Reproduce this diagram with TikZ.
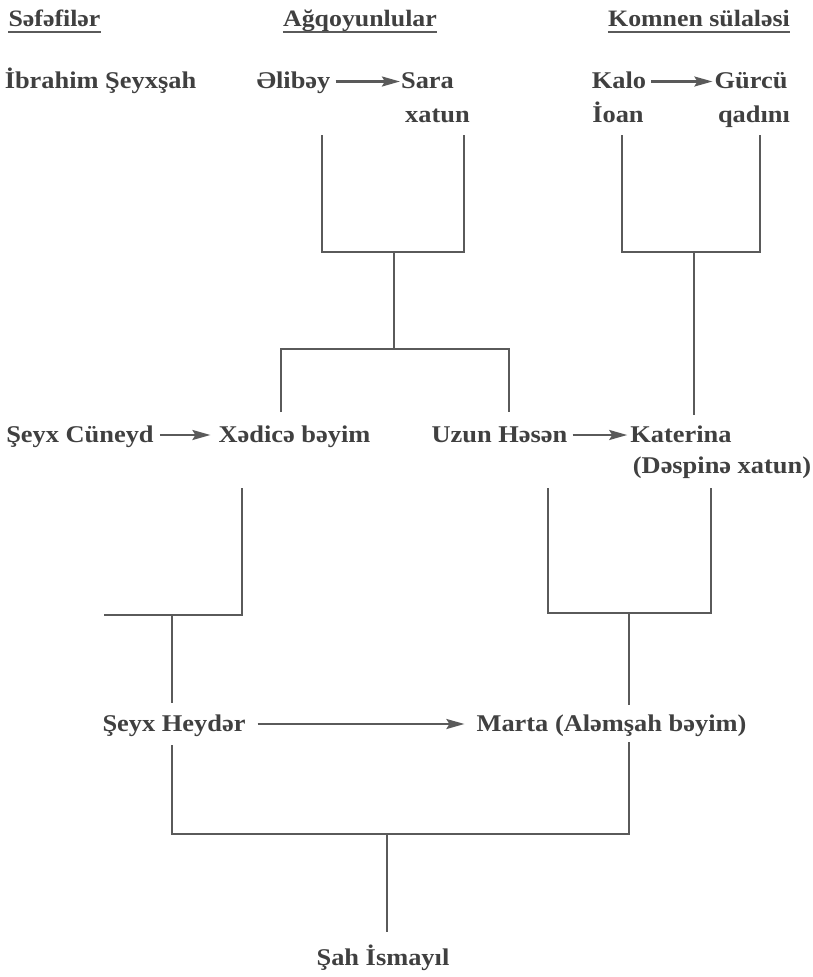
\documentclass[tikz,border=0pt]{standalone}
\usepackage{fontspec}
\newfontfamily\tf[FakeStretch=1.1]{Liberation Serif}
\usetikzlibrary{arrows.meta}
\definecolor{txt}{HTML}{404040}
\definecolor{ln}{HTML}{5A5A5A}
\begin{document}
\begin{tikzpicture}[x=1pt,y=-1pt,
  lbl/.style={anchor=base,inner sep=0pt,text=txt,font=\tf\bfseries\fontsize{24}{28}\selectfont},
  hdr/.style={anchor=base,inner sep=0pt,text=txt,font=\tf\bfseries\fontsize{23.5}{28}\selectfont},
  uline/.style={draw=ln,line width=2.6pt},
  tree/.style={draw=ln,line width=1.8pt},
  arr/.style={draw=ln,line width=2.2pt,-{Stealth[length=18pt,width=10pt,inset=3pt]}}]
\fill[white] (0,0) rectangle (813,977);
\useasboundingbox (0,0) rectangle (813,977);
% headers
\node[hdr] (h1) at (54.5,27) {Səfəfilər};
\node[hdr] (h2) at (360,27) {Ağqoyunlular};
\node[hdr] (h3) at (699,27) {Komnen sülaləsi};
\foreach \h in {h1,h2,h3}
  \draw[uline] ([yshift=-5pt]\h.base west) -- ([yshift=-5pt]\h.base east);
% row 1
\node[lbl] (ibr) at (100.5,88) {İbrahim Şeyxşah};
\node[lbl] (ali) at (293.5,88) {Əlibəy};
\node[lbl] (sara) at (427.5,88) {Sara};
\node[lbl] (xat) at (437.5,122) {xatun};
\node[lbl] (kalo) at (619,88) {Kalo};
\node[lbl] (ioan) at (618,122) {İoan};
\node[lbl] (gur) at (751,88) {Gürcü};
\node[lbl] (qad) at (754,122) {qadını};
\draw[arr] ([xshift=5pt,yshift=6.5pt]ali.base east) -- ([xshift=-1pt,yshift=6.5pt]sara.base west);
\draw[arr] ([xshift=5pt,yshift=6.5pt]kalo.base east) -- ([xshift=-2pt,yshift=6.5pt]gur.base west);
% row 2
\node[lbl] (cun) at (80,442) {Şeyx Cüneyd};
\node[lbl] (xed) at (294.5,442) {Xədicə bəyim};
\node[lbl] (uzun) at (499.5,442) {Uzun Həsən};
\node[lbl] (kat) at (681,442) {Katerina};
\node[lbl] (desp) at (722,473) {(Dəspinə xatun)};
\draw[arr] ([xshift=6pt,yshift=7pt]cun.base east) -- ([xshift=-8pt,yshift=7pt]xed.base west);
\draw[arr] ([xshift=5pt,yshift=7pt]uzun.base east) -- ([xshift=-3pt,yshift=7pt]kat.base west);
% row 3
\node[lbl] (hey) at (174,731) {Şeyx Heydər};
\node[lbl] (marta) at (611.5,731) {Marta (Aləmşah bəyim)};
\draw[arr] ([xshift=12pt,yshift=7pt]hey.base east) -- ([xshift=-12pt,yshift=7pt]marta.base west);
% bottom
\node[lbl] (shah) at (383,965) {Şah İsmayıl};
% tree coordinates
\coordinate (a1) at (322,135); \coordinate (a2) at (464,135);
\coordinate (aj) at (394,252);
\coordinate (b1) at (622,135); \coordinate (b2) at (760,135);
\coordinate (bj) at (694,252);
\coordinate (c1) at (281,412); \coordinate (c2) at (509,412);
\coordinate (cj) at (394,349);
\coordinate (d1) at (694,415);
\coordinate (e1) at (242,488); \coordinate (e2) at (104,615);
\coordinate (ej) at (172,615);
\coordinate (f1) at (548,488); \coordinate (f2) at (711,488);
\coordinate (fj) at (629,613);
\coordinate (g1) at (172,703); \coordinate (g2) at (629,705);
\coordinate (h1b) at (172,745); \coordinate (h2b) at (629,742);
\coordinate (hj) at (387,834);
\coordinate (s1) at (387,932);
% tree lines
\draw[tree] (a1) |- (aj) -| (a2);
\draw[tree] (aj) -- (cj);
\draw[tree] (c1) |- (cj) -| (c2);
\draw[tree] (b1) |- (bj) -| (b2);
\draw[tree] (bj) -- (d1);
\draw[tree] (e1) |- (e2);
\draw[tree] (ej) -- (g1);
\draw[tree] (f1) |- (fj) -| (f2);
\draw[tree] (fj) -- (g2);
\draw[tree] (h1b) |- (hj) -| (h2b);
\draw[tree] (hj) -- (s1);
\end{tikzpicture}
\end{document}
